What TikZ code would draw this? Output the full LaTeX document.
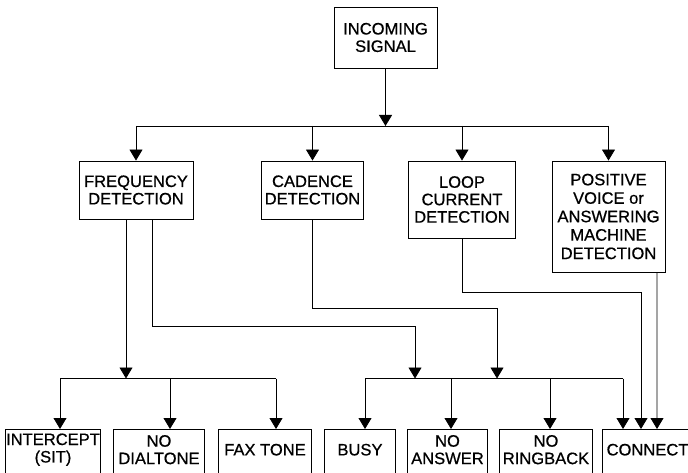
\documentclass[tikz,border=0pt]{standalone}
\usepackage{fontspec}
\setmainfont[FakeBold=0.7]{Liberation Sans}
\usetikzlibrary{arrows.meta}
\begin{document}
\begin{tikzpicture}[x=1bp,y=-1bp,
  box/.style={draw, line width=0.9bp, align=center, inner sep=0pt, font=\fontsize{16.6}{17.5}\selectfont},
  tbox/.style={align=center, inner sep=0pt, anchor=north, minimum height=41bp, font=\fontsize{16.6}{17.5}\selectfont},
  arr/.style={line width=0.8bp, -{Triangle[width=13bp,length=11bp]}},
  ln/.style={line width=0.8bp},
  side/.style={line width=0.9bp}]
\useasboundingbox (0,0) rectangle (688,473);
\clip (0,0) rectangle (688,473);

% upper boxes
\node[box, minimum width=103bp, minimum height=61bp] (top) at (385.5,37.5) {INCOMING\\SIGNAL};
\node[box, minimum width=114bp, minimum height=58bp] (freq) at (136,190) {FREQUENCY\\DETECTION};
\node[box, minimum width=102bp, minimum height=58bp] (cad) at (312.5,190) {CADENCE\\DETECTION};
\node[box, minimum width=107bp, minimum height=77bp] (loop) at (462,199.5) {LOOP\\CURRENT\\DETECTION};
\node[box, minimum width=113bp, minimum height=111bp, font=\fontsize{16.6}{18.5}\selectfont] (pos) at (608.5,216.5) {POSITIVE\\VOICE or\\ANSWERING\\MACHINE\\DETECTION};

% lower boxes (cut off at the bottom edge)
\node[tbox, minimum width=92bp] (icp) at (53,429) {INTERCEPT\\(SIT)};
\node[tbox, minimum width=90bp] (ndt) at (159,429) {NO\\DIALTONE};
\node[tbox, minimum width=92bp] (fax) at (265,429) {FAX TONE};
\node[tbox, minimum width=70bp] (busy) at (360,429) {BUSY};
\node[tbox, minimum width=79bp] (nans) at (447.5,429) {NO\\ANSWER};
\node[tbox, minimum width=92bp] (nrb) at (546,429) {NO\\RINGBACK};
\node[tbox, minimum width=89bp] (conn) at (647.5,429) {CONNECT};
\coordinate (low) at (0,490);
\foreach \n in {icp,ndt,fax,busy,nans,nrb,conn}
  \draw[side] (\n.north west |- low) -- (\n.north west) -- (\n.north east) -- (\n.north east |- low);

% top distribution
\coordinate (bus1) at (0,126);
\coordinate (bus2) at (0,378.5);
\draw[arr] (top.south) -- (top.south |- bus1);
\draw[ln] (freq.north |- bus1) -- (pos.north |- bus1);
\foreach \n in {freq,cad,loop,pos}
  \draw[arr] (\n.north |- bus1) -- (\n.north);

% bottom arrow points
\coordinate (a1) at ([xshift=7bp]icp.north);
\coordinate (a2) at ([xshift=11bp]ndt.north);
\coordinate (a3) at ([xshift=11bp]fax.north);
\coordinate (a4) at ([xshift=5bp]busy.north);
\coordinate (a5) at ([xshift=3.5bp]nans.north);
\coordinate (a6) at ([xshift=4bp]nrb.north);
\coordinate (a7) at ([xshift=-24.5bp]conn.north);
\coordinate (a8) at ([xshift=-6.5bp]conn.north);
\coordinate (a9) at ([xshift=9.5bp]conn.north);

\draw[ln] (a1 |- bus2) -- (a3 |- bus2);
\draw[ln] (a4 |- bus2) -- (a7 |- bus2);
\foreach \p in {a1,a2,a3,a4,a5,a6,a7}
  \draw[arr] (\p |- bus2) -- (\p);

% detector outputs
\coordinate (f1) at ([xshift=-10bp]freq.south);
\draw[arr] (f1) -- (f1 |- bus2);
\coordinate (f2) at ([xshift=16bp]freq.south);
\coordinate (h1) at (415,326);
\draw[arr] (f2) |- (h1) -- (h1 |- bus2);
\coordinate (h2) at (497,308);
\draw[arr] (cad.south) |- (h2) -- (h2 |- bus2);
\coordinate (h3) at (0,292);
\draw[arr] (loop.south) |- (a8 |- h3) -- (a8);
\coordinate (p1) at ([xshift=48.5bp]pos.south);
\draw[arr] (p1) -- (a9);
\end{tikzpicture}
\end{document}
